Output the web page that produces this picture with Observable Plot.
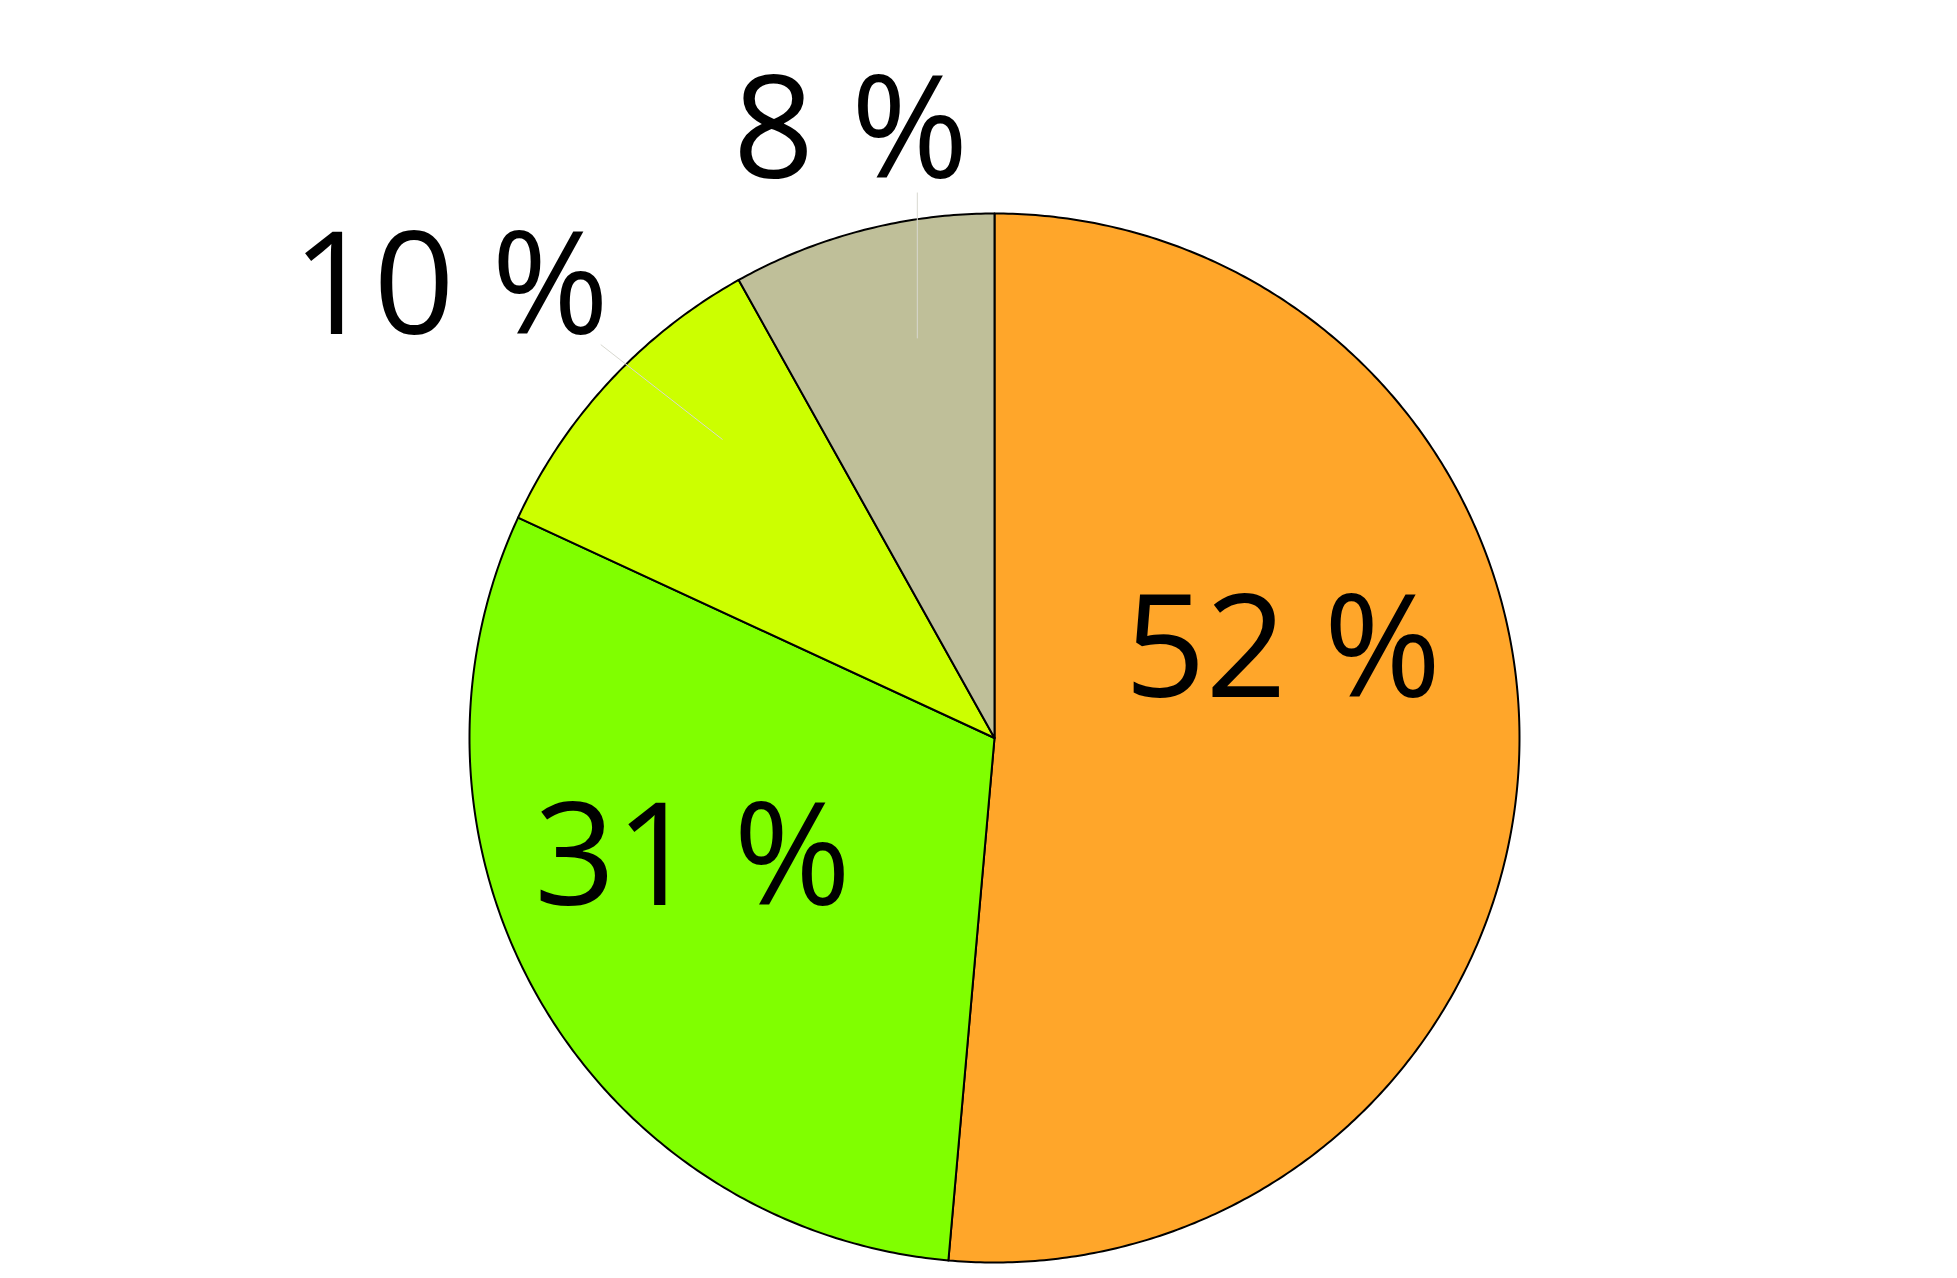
<!DOCTYPE html>
<html>
<head>
<meta charset="utf-8">
<script src="https://cdn.jsdelivr.net/npm/d3@7"></script>
<script src="https://cdn.jsdelivr.net/npm/@observablehq/plot@0.6"></script>
<style>
  html, body { margin: 0; padding: 0; background: #fff; }
  #chart svg { display: block; }
</style>
</head>
<body>
<div id="chart"></div>
<script>
// ---- data ----
const categories = ["A", "B", "C", "D"];
const values = [51.4, 30.5, 10.0, 8.1];          // share of the pie (clockwise from top)
const labels = ["52 %", "31 %", "10 %", "8 %"];
const colors = ["#FFA62A", "#80FF00", "#CCFF00", "#BFBF99"];

// ---- layout (data units, pie radius = 1) ----
const labelX = [0.549, -0.575, -1.036, -0.274];
const labelY = [0.164, -0.231, 0.857, 1.155];
const leaders = [
  {x1: -0.147, y1: 1.040, x2: -0.147, y2: 0.762},
  {x1: -0.750, y1: 0.750, x2: -0.518, y2: 0.569}
];

const total = d3.sum(values);
let acc = 0;
const slices = values.map((v, i) => {
  const a0 = acc / total * 2 * Math.PI;
  acc += v;
  const a1 = acc / total * 2 * Math.PI;
  const n = Math.max(2, Math.ceil((a1 - a0) / (Math.PI / 360)));
  const pts = [{x: 0, y: 0}];
  for (let k = 0; k <= n; k++) {
    const a = a0 + (a1 - a0) * k / n;
    pts.push({x: Math.sin(a), y: Math.cos(a)});
  }
  pts.push({x: 0, y: 0});
  return {pts, color: colors[i], cat: categories[i]};
});

const labelData = labels.map((t, i) => ({t, x: labelX[i], y: labelY[i]}));

const plot = Plot.plot({
  width: 1957,
  height: 1278,
  margin: 0,
  x: {type: "linear", domain: [-1, 1], range: [469, 1519], axis: null},
  y: {type: "linear", domain: [-1, 1], range: [1262, 213], axis: null},
  marks: [
    ...slices.map(s => Plot.line(s.pts, {
      x: "x", y: "y", fill: s.color, stroke: "#000", strokeWidth: 2,
      strokeLinejoin: "round", curve: "linear"
    })),
    Plot.link(leaders, {x1: "x1", y1: "y1", x2: "x2", y2: "y2", stroke: "#d8d8d0", strokeWidth: 1}),
    Plot.text(labelData, {
      x: "x", y: "y", text: "t", fontSize: 142, fontFamily: "Open Sans",
      fill: "#000", textAnchor: "middle"
    })
  ]
});
document.getElementById("chart").appendChild(plot);
</script>
</body>
</html>
